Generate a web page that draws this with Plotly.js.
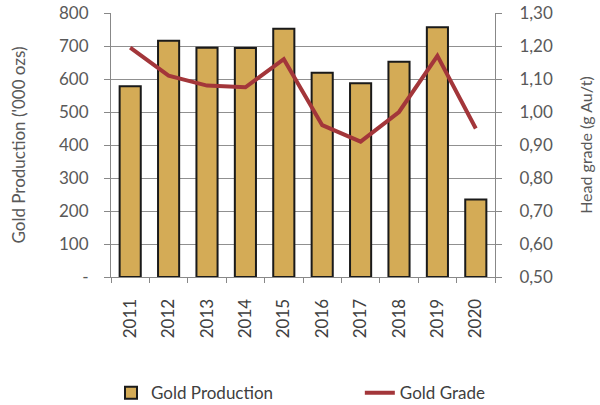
<!DOCTYPE html>
<html><head><meta charset="utf-8">
<script src="https://cdn.plot.ly/plotly-3.0.1.min.js"></script>
<style>html,body{margin:0;padding:0;background:#fff}#c{width:600px;height:405px}</style>
</head><body><div id="c"></div>
<script>
const years = ['2011','2012','2013','2014','2015','2016','2017','2018','2019','2020'];
const production = [578, 716, 695, 694, 752, 619, 587, 652, 757, 235];
const grade = [1.195, 1.11, 1.08, 1.075, 1.16, 0.96, 0.91, 1.00, 1.17, 0.95];
const leftTicks = [0,100,200,300,400,500,600,700,800];
const leftTickText = ['-','100','200','300','400','500','600','700','800'];

const font = 'Lato, "Open Sans", sans-serif';
const traces = [
  {type:'bar', x:years, y:production, name:'Gold Production', width:0.55, legend:'legend',
   marker:{color:'#d4ab56', line:{color:'#1a1a1a', width:2}}},
  {type:'scatter', mode:'lines', x:years, y:grade, name:'Gold Grade', yaxis:'y2', legend:'legend2',
   line:{color:'#a3363a', width:4}}
];
const legFont = {size:17, color:'#404040'};
const layout = {
  width:600, height:405,
  margin:{l:111, r:105, t:13, b:128, autoexpand:false},
  paper_bgcolor:'#fff', plot_bgcolor:'#fff',
  font:{family:font, size:17, color:'#595959'},
  separators:',.',
  showlegend:true,
  legend:{orientation:'h', x:0.0, y:-0.44, xanchor:'left', yanchor:'middle', font:legFont},
  legend2:{orientation:'h', x:0.648, y:-0.44, xanchor:'left', yanchor:'middle', font:legFont},
  xaxis:{type:'category', tickangle:-90, showline:true, linecolor:'#888', linewidth:1,
         ticks:'outside', ticklen:5, tickcolor:'#888', tickson:'boundaries',
         ticklabelstandoff:14, automargin:false,
         showgrid:false, tickfont:{size:17, color:'#404040'}},
  yaxis:{range:[0,800], tickvals:leftTicks, ticktext:leftTickText, showline:true,
         linecolor:'#888', linewidth:1, ticks:'outside', ticklen:6, tickcolor:'#888',
         ticklabelstandoff:12, automargin:false,
         gridcolor:'#909090', gridwidth:1, zeroline:false,
         title:{text:"Gold Production ('000 ozs)", font:{size:17, color:'#595959'}, standoff:29}},
  yaxis2:{range:[0.5,1.3], dtick:0.1, tickformat:'.2f', overlaying:'y', side:'right',
          showline:true, linecolor:'#888', linewidth:1, ticks:'outside', ticklen:6, tickcolor:'#888',
          ticklabelstandoff:14, automargin:false,
          showgrid:false, zeroline:false,
          title:{text:'Head grade (g Au/t)', font:{size:16, color:'#595959'}, standoff:28}}
};
Plotly.newPlot('c', traces, layout, {displayModeBar:false, staticPlot:true});
</script></body></html>
